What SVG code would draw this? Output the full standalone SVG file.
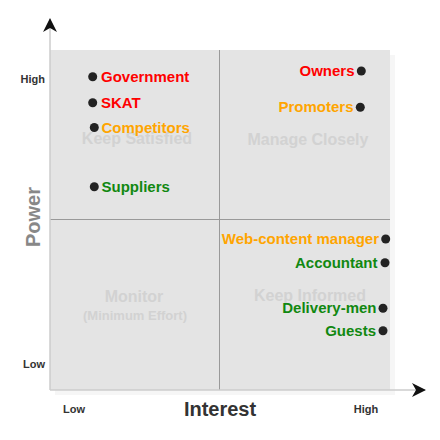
<svg xmlns="http://www.w3.org/2000/svg" width="440" height="440" viewBox="0 0 440 440">
<style>
text{font-family:"Liberation Sans",Arial,sans-serif;font-weight:bold}
.q{fill:#d2d2d2;font-size:16px;text-anchor:middle}
.qs{fill:#d2d2d2;font-size:13px;text-anchor:middle}
.tick{fill:#333;font-size:11px}
.ax{fill:#333;font-size:20px;text-anchor:middle}
.lbl{font-size:15px}
.r{fill:#ff0000}.o{fill:#ffa500}.g{fill:#118811}
.end{text-anchor:end}
.dot{fill:#222}
.axis{stroke:#cccccc;stroke-width:1.5;fill:none}
.mid{stroke:#999;stroke-width:1;fill:none}
</style>
<defs>
<marker id="ah" viewBox="0 0 14 14" refX="13" refY="7" markerWidth="14" markerHeight="14" markerUnits="userSpaceOnUse" orient="auto">
<path d="M0,0 L14,7 L0,14 L4,7 Z" fill="#111"/>
</marker>
</defs>
<g id="background">
<rect x="55" y="55" width="340" height="340" fill="#f6f6f6"/>
<rect x="50" y="50" width="340" height="340" fill="#e4e4e4"/>
</g>
<g id="connectors">
<line class="mid" x1="219.5" y1="50" x2="219.5" y2="390"/>
<line class="mid" x1="50" y1="219.5" x2="390" y2="219.5"/>
<line id="y-axis" class="axis" x1="50" y1="390" x2="50" y2="19" marker-end="url(#ah)"/>
<line id="x-axis" class="axis" x1="50" y1="390" x2="425" y2="390" marker-end="url(#ah)"/>
</g>
<g id="quadrants">
<text class="q" x="137" y="144">Keep Satisfied</text>
<text class="q" x="308" y="145">Manage Closely</text>
<text class="q" x="134" y="302">Monitor</text>
<text class="qs" x="135" y="320">(Minimum Effort)</text>
<text class="q" x="310" y="301">Keep Informed</text>
</g>
<g id="axis-labels">
<text class="tick" x="45" y="83" text-anchor="end">High</text>
<text class="tick" x="45" y="368" text-anchor="end">Low</text>
<text class="tick" x="74" y="413" text-anchor="middle">Low</text>
<text class="tick" x="366" y="413" text-anchor="middle">High</text>
<text class="ax" x="220" y="416">Interest</text>
<text class="ax" fill="#888" style="fill:#888" transform="translate(40,217) rotate(-90)">Power</text>
</g>
<g id="government"><circle class="dot" cx="92.7" cy="76.7" r="4.5"/><text class="lbl r" x="101" y="82">Government</text></g>
<g id="skat"><circle class="dot" cx="92.7" cy="102.7" r="4.5"/><text class="lbl r" x="101" y="108">SKAT</text></g>
<g id="competitors"><circle class="dot" cx="94.3" cy="127.5" r="4.5"/><text class="lbl o" x="101.5" y="133">Competitors</text></g>
<g id="suppliers"><circle class="dot" cx="94.3" cy="186.7" r="4.5"/><text class="lbl g" x="101.5" y="192">Suppliers</text></g>
<g id="owners"><circle class="dot" cx="361.3" cy="71" r="4.5"/><text class="lbl r end" x="354.5" y="76">Owners</text></g>
<g id="promoters"><circle class="dot" cx="360.3" cy="107.3" r="4.5"/><text class="lbl o end" x="353.5" y="112">Promoters</text></g>
<g id="web-content-manager"><circle class="dot" cx="385.7" cy="239" r="4.5"/><text class="lbl o end" x="379" y="244">Web-content manager</text></g>
<g id="accountant"><circle class="dot" cx="385" cy="262.7" r="4.5"/><text class="lbl g end" x="377.5" y="268">Accountant</text></g>
<g id="delivery-men"><circle class="dot" cx="383" cy="308.3" r="4.5"/><text class="lbl g end" x="376.5" y="313">Delivery-men</text></g>
<g id="guests"><circle class="dot" cx="383" cy="330.7" r="4.5"/><text class="lbl g end" x="376" y="335.5">Guests</text></g>
</svg>
